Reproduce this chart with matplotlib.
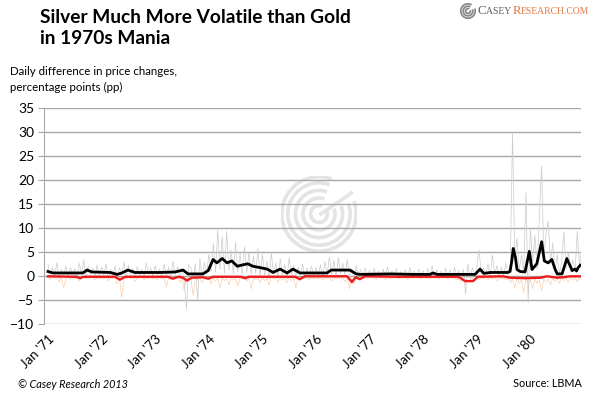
import numpy as np
import matplotlib
matplotlib.use("Agg")
import matplotlib.pyplot as plt
from matplotlib.patches import Arc

plt.rcParams["font.family"] = ["Lato", "DejaVu Sans"]

# smoothed silver-vs-gold line (black), knots as (decimal year, pp)
black_t = [1971.00, 1971.09, 1971.65, 1971.73, 1971.82, 1972.16, 1972.29, 1972.38, 1972.49, 1972.62,
           1973.09, 1973.37, 1973.52, 1973.61, 1973.89, 1973.99, 1974.08, 1974.15, 1974.25, 1974.34,
           1974.43, 1974.53, 1974.64, 1974.73, 1974.82, 1974.96, 1975.09, 1975.20, 1975.33, 1975.46,
           1975.57, 1975.70, 1976.21, 1976.28, 1976.63, 1976.75, 1976.82, 1977.40, 1977.80, 1978.13,
           1978.18, 1978.26, 1978.97, 1979.06, 1979.13, 1979.25, 1979.58, 1979.62, 1979.65, 1979.68,
           1979.72, 1979.75, 1979.81, 1979.90, 1979.93, 1979.98, 1980.03, 1980.12, 1980.21, 1980.26,
           1980.33, 1980.40, 1980.46, 1980.50, 1980.59, 1980.68, 1980.78, 1980.83, 1980.86, 1980.89,
           1980.93]
black_v = [1.0, 0.7, 0.7, 1.3, 0.9, 0.8, 0.4, 0.7, 1.3, 0.8,
           0.8, 0.9, 1.3, 0.5, 0.5, 1.2, 3.5, 2.8, 3.7, 2.8,
           3.2, 2.1, 2.4, 2.6, 2.1, 1.8, 1.5, 0.8, 1.5, 0.7,
           1.5, 0.7, 0.7, 1.3, 1.3, 0.5, 0.4, 0.5, 0.4, 0.4,
           0.7, 0.4, 0.4, 1.5, 0.6, 0.8, 0.8, 1.0, 3.0, 5.8,
           4.0, 1.4, 1.0, 0.9, 2.5, 5.2, 1.4, 2.6, 7.2, 3.2,
           2.8, 3.5, 1.5, 0.5, 0.5, 3.7, 1.2, 1.5, 1.1, 1.8,
           2.3]

# smoothed red line, knots
red_t = [1971.00, 1971.53, 1971.60, 1971.66, 1972.25, 1972.34, 1972.44, 1973.24, 1973.33, 1973.43,
         1973.52, 1973.59, 1973.68, 1973.89, 1973.99, 1974.08, 1974.60, 1974.68, 1974.75, 1975.20,
         1975.61, 1975.70, 1975.79, 1976.58, 1976.67, 1976.74, 1976.82, 1976.91, 1977.50, 1978.63,
         1978.69, 1978.78, 1978.93, 1979.02, 1979.49, 1979.62, 1979.90, 1980.18, 1980.31, 1980.50,
         1980.61, 1980.74, 1980.93]
red_v = [0.0, -0.1, -0.4, -0.1, -0.1, -0.7, -0.1, -0.1, -0.5, -0.1,
         -0.3, -0.9, -0.3, -0.2, -0.5, -0.1, -0.1, -0.4, -0.1, -0.1,
         -0.1, -0.6, 0.0, 0.0, -1.2, -0.2, -0.6, 0.0, -0.1, -0.1,
         -0.3, -1.0, -1.0, -0.1, 0.0, -0.3, -0.4, -0.3, 0.0, -0.3,
         -0.2, 0.0, 0.0]

# daily-ish thin series, two readings per month, one row per year
gray_daily = [
    [2.5, -0.3, 1.8, 0.2, 2.9, -0.4, 1.5, 0.3, 2.2, -0.2, 1.9, 0.4, 1.6, -0.3, 2.7, 0.5, 3.4, -0.2, 2.0, 0.3, 1.7, -0.4, 2.4, 0.2],
    [1.9, 0.3, 2.6, -0.5, 1.4, 0.2, 2.1, -0.3, 1.8, 0.4, 3.0, -0.2, 2.3, 0.3, 1.6, -0.4, 2.0, 0.2, 1.5, -0.3, 2.8, 0.4, 1.7, -0.2],
    [2.2, 0.3, 1.6, -0.4, 2.5, 0.2, 1.9, -0.5, 3.1, 0.3, 2.0, -0.3, 1.5, -1.0, -6.8, 2.4, 1.8, -0.6, 2.6, -5.0, 3.8, -0.4, 2.9, 0.5],
    [4.5, 1.0, 6.8, 0.8, 9.7, 1.5, 8.2, 0.6, 9.4, 1.2, 5.5, 0.5, 7.1, 0.9, 4.8, 0.3, 6.2, 0.8, 5.0, 0.4, 4.3, 0.6, 5.8, 0.2],
    [4.6, 0.3, 3.2, -0.5, 4.9, 0.4, 2.8, -0.3, 3.6, 0.2, 2.5, -0.6, 3.9, 0.3, 2.2, -0.4, 1.9, 0.2, 2.6, -0.3, 1.7, 0.4, 2.1, -0.2],
    [1.8, 0.2, 2.4, -0.3, 3.1, 0.4, 4.0, 0.2, 3.3, -0.2, 3.9, 0.5, 2.7, 0.3, 3.5, -0.4, 1.6, -0.5, 2.2, 0.1, 1.4, -0.2, 1.8, 0.2],
    [1.3, -0.2, 1.7, 0.2, 1.1, -0.3, 1.5, 0.1, 2.0, -0.2, 1.2, 0.2, 1.6, -0.3, 1.0, 0.1, 1.4, -0.2, 1.8, 0.2, 1.1, -0.1, 1.5, 0.1],
    [1.2, -0.2, 1.6, 0.1, 2.2, -0.3, 1.4, 0.2, 1.1, -0.2, 1.7, 0.1, 1.3, -0.3, 1.9, 0.2, 1.2, -0.4, 1.5, -3.8, 2.6, -0.6, 1.8, 0.2],
    [2.0, 5.5, 0.6, 1.8, 0.4, 2.6, -0.3, 4.5, 0.5, 2.2, -0.2, 1.9, 0.3, 2.8, 0.4, 2.4, 30.0, 3.5, 8.0, 1.2, 4.5, 0.8, 17.5, -5.5],
    [10.0, 3.0, 8.5, 1.5, 12.0, 23.0, 4.0, 9.0, 11.5, 2.5, 7.0, 1.0, 4.5, 0.5, 3.0, 9.3, 1.5, 5.0, 0.8, 3.5, 1.2, 9.3, 2.0, 6.0],
]
orange_daily = [
    [-0.3, -0.6, -0.2, -0.4, -0.3, -1.1, -0.2, -2.5, -0.4, -0.3, -0.6, -0.2, -0.5, -0.3, -0.9, -0.3, -0.2, -0.5, -0.3, -0.4, -0.2, -0.8, -0.3, -0.4],
    [-0.3, -0.5, -0.2, -1.0, -0.3, -0.4, -0.3, -1.6, -0.3, -4.4, -0.4, -0.6, -0.2, -0.5, -0.3, -1.1, -0.3, -0.4, -0.2, -0.7, -0.3, -0.4, -0.2, -0.6],
    [-0.3, -0.8, -0.2, -0.5, -0.4, -2.2, -0.3, -0.7, -0.3, -0.4, -0.2, -1.3, -0.4, -3.0, -0.3, -0.9, -0.5, -4.0, -0.3, -0.8, -0.3, -1.4, -0.4, -0.6],
    [-0.4, -1.6, -0.3, -1.0, -0.4, -2.4, -0.3, -0.9, -0.5, -1.8, -0.3, -0.7, -0.4, -2.1, -0.3, -0.6, -0.2, -1.0, -0.4, -2.6, -0.3, -0.7, -0.3, -1.4],
    [-0.3, -0.9, -0.4, -1.9, -0.2, -0.6, -0.3, -1.2, -0.3, -0.8, -0.4, -1.4, -0.2, -1.0, -0.3, -2.4, -0.4, -0.8, -0.3, -0.5, -0.2, -0.7, -0.3, -0.5],
    [-0.2, -0.5, -0.3, -0.8, -0.3, -0.5, -0.4, -1.0, -0.2, -0.6, -0.3, -0.4, -0.3, -1.2, -0.4, -2.6, -0.6, -1.5, -0.3, -0.6, -0.2, -0.5, -0.3, -0.4],
    [-0.2, -0.4, -0.3, -0.6, -0.2, -0.4, -0.3, -0.7, -0.2, -0.5, -0.3, -0.3, -0.2, -0.5, -0.3, -0.4, -0.2, -0.6, -0.3, -0.4, -0.2, -0.3, -0.3, -0.5],
    [-0.2, -0.4, -0.3, -0.5, -0.2, -0.4, -0.3, -0.6, -0.2, -0.3, -0.3, -0.5, -0.2, -0.4, -0.3, -0.7, -0.5, -1.0, -0.8, -1.6, -0.9, -1.2, -0.4, -0.6],
    [-0.3, -0.7, -0.3, -0.5, -0.2, -0.8, -0.3, -0.6, -0.3, -0.9, -0.3, -0.5, -0.4, -0.8, -0.4, -1.3, -0.6, -2.4, -0.5, -1.4, -0.8, -3.4, -0.6, -1.7],
    [-0.7, -2.6, -0.5, -1.5, -0.8, -3.0, -0.5, -1.2, -0.6, -1.8, -0.4, -1.0, -0.5, -1.5, -0.3, -0.9, -0.4, -1.3, -0.3, -0.8, -0.3, -1.1, -0.4, -0.7],
]

years = list(range(1971, 1981))
tick_labels = ["Jan '%02d" % (y % 100) for y in years]

# half-month time axis for the thin series
daily_t = np.array([y + k / 24 for y in years for k in range(24)])
gray_v = np.concatenate(gray_daily)
orange_v = np.concatenate(orange_daily)

W, H = 590, 394
fig = plt.figure(figsize=(W / 100, H / 100), dpi=100)
fig.patch.set_facecolor("white")

L, R, T, B = 44, 581, 108.3, 324.3
ax = fig.add_axes([L / W, 1 - B / H, (R - L) / W, (B - T) / H])

# watermark spiral behind the data
wm = fig.add_axes([281 / W, 1 - 252 / H, 76 / W, 76 / H])
wm.set_xlim(-1, 1)
wm.set_ylim(-1, 1)
wm.set_aspect("equal")
wm.axis("off")
for r in [0.22, 0.42, 0.62, 0.82, 0.98]:
    wm.add_patch(Arc((0, 0), 2 * r, 2 * r, theta1=70, theta2=20 + 360, color="#e4e4e4", lw=2.6))
wm.plot([0.05, 0.85], [0.0, 0.55], color="#e4e4e4", lw=2.6)
wm.set_zorder(0)
ax.set_zorder(1)
ax.patch.set_alpha(0)

ax.plot(daily_t, gray_v, color="#cbcbcb", lw=0.5, zorder=2)
ax.plot(daily_t, orange_v, color="#f8cfb0", lw=0.5, zorder=2)
ax.plot(red_t, red_v, color="#ee1c1c", lw=1.7, zorder=3)
ax.plot(black_t, black_v, color="black", lw=2.0, zorder=4)

ax.set_ylim(-10, 35)
ax.set_xlim(1971 - 4 / 53.6, 1971 + (R - 48) / 53.6)
ax.set_yticks(range(-10, 36, 5))
ax.grid(axis="y", color="#a8a8a8", lw=1.0)
ax.set_axisbelow(True)
for s in ["top", "right", "bottom"]:
    ax.spines[s].set_visible(False)
ax.spines["left"].set_color("#a8a8a8")
ax.tick_params(axis="y", length=4, color="#a8a8a8", labelsize=10, pad=3)
ax.set_xticks(years)
ax.set_xticklabels(tick_labels, rotation=45, ha="right", rotation_mode="anchor")
ax.tick_params(axis="x", length=0, labelsize=9.5, pad=6)

fig.text(40 / W, 1 - 9 / H, "Silver Much More Volatile than Gold\nin 1970s Mania",
         fontsize=13.8, fontweight="bold", va="top", linespacing=1.32)
fig.text(10 / W, 1 - 66 / H, "Daily difference in price changes,\npercentage points (pp)",
         fontsize=8.3, va="top", linespacing=1.5)
fig.text(18 / W, 1 - 388 / H, "\u00a9 Casey Research 2013", fontsize=7.8, style="italic", va="baseline")
fig.text(582 / W, 1 - 387 / H, "Source: LBMA", fontsize=7.8, ha="right", va="baseline")

# logo
lg = fig.add_axes([460 / W, 1 - 19 / H, 16 / W, 16 / H])
lg.set_xlim(-1, 1)
lg.set_ylim(-1, 1)
lg.set_aspect("equal")
lg.axis("off")
for r in [0.3, 0.6, 0.9]:
    lg.add_patch(Arc((0, 0), 2 * r, 2 * r, theta1=60, theta2=380, color="#8a8a8a", lw=1.3))
serif = ["Liberation Serif", "DejaVu Serif"]
x0 = 477 / W
y0 = 1 - 14 / H
fig.canvas.draw()
rend = fig.canvas.get_renderer()
parts = [("C", 9.2, "#5a5a5a"), ("ASEY ", 6.9, "#5a5a5a"), ("R", 9.2, "#e07a45"), ("ESEARCH.COM", 6.9, "#e07a45")]
xc = x0
for s, fs, col in parts:
    t = fig.text(xc, y0, s, fontsize=fs, color=col, family=serif, va="baseline")
    xc = t.get_window_extent(rend).x1 / W

fig.savefig("out.png", dpi=100, facecolor="white")
